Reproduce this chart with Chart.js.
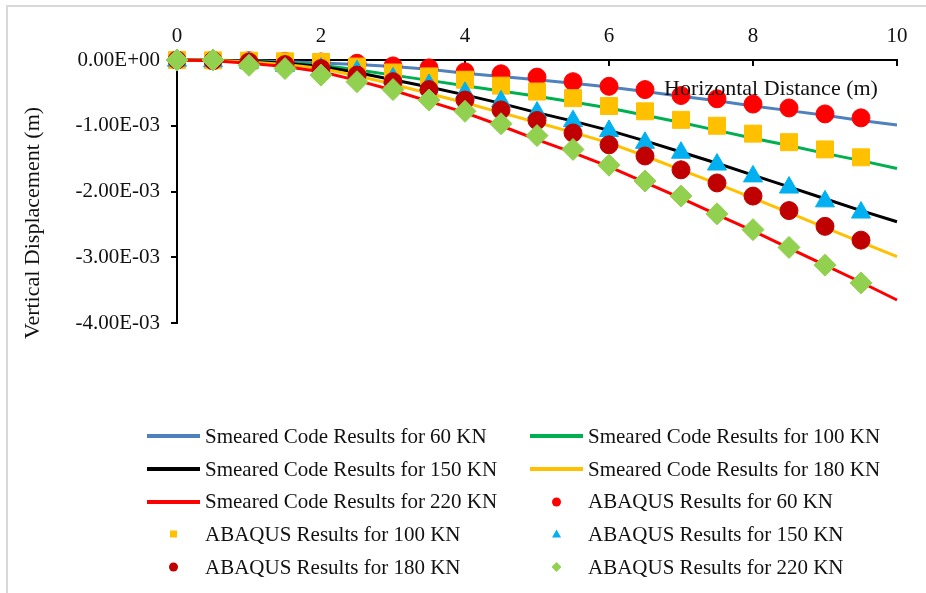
<!DOCTYPE html>
<html>
<head>
<meta charset="utf-8">
<script src="https://cdn.jsdelivr.net/npm/chart.js@4.4.1/dist/chart.umd.min.js"></script>
<style>
  html, body { margin: 0; padding: 0; background: #fff; }
  #wrap { position: relative; width: 926px; height: 593px; overflow: hidden; }
  #frame { position: absolute; left: 6px; top: 5px; width: 930px; height: 600px;
           border-top: 2px solid #d9d9d9; border-left: 2px solid #d9d9d9; box-sizing: border-box; }
  #chart { position: absolute; left: 0; top: 0; }
  #legend { position: absolute; left: 147px; top: 420px; display: grid;
            grid-template-columns: 383px 340px;
            font-family: "Liberation Serif", "Times New Roman", serif; font-size: 21px; color: #111; }
  .item { height: 32.7px; display: flex; align-items: center; white-space: nowrap; }
  .item svg { margin-right: 5px; flex: none; }
</style>
</head>
<body>
<div id="wrap">
  <div id="frame"></div>
  <canvas id="chart" width="926" height="593"></canvas>
  <div id="legend"></div>
</div>
<script>
// jarak mendatar (m)
const xLine = [0, 0.5, 1, 1.5, 2, 2.5, 3, 3.5, 4, 4.5, 5, 5.5, 6, 6.5, 7, 7.5, 8, 8.5, 9, 9.5, 10];
const xAbaqus = [0, 0.5, 1, 1.5, 2, 2.5, 3, 3.5, 4, 4.5, 5, 5.5, 6, 6.5, 7, 7.5, 8, 8.5, 9, 9.5];

// anjakan tegak, dalam unit 1E-03 m
const smeared60 = [0, -0.003, -0.01, -0.025, -0.045, -0.07, -0.10, -0.14, -0.20, -0.25, -0.30, -0.355, -0.41, -0.48, -0.55, -0.62, -0.70, -0.77, -0.84, -0.92, -0.99];
const smeared100 = [0, -0.005, -0.02, -0.04, -0.08, -0.15, -0.23, -0.31, -0.39, -0.47, -0.55, -0.64, -0.73, -0.84, -0.95, -1.07, -1.19, -1.30, -1.42, -1.53, -1.65];
const smeared150 = [0, -0.005, -0.02, -0.05, -0.10, -0.19, -0.30, -0.41, -0.53, -0.66, -0.80, -0.93, -1.07, -1.23, -1.40, -1.57, -1.75, -1.93, -2.11, -2.29, -2.46];
const smeared180 = [0, -0.005, -0.03, -0.07, -0.13, -0.24, -0.37, -0.51, -0.65, -0.80, -0.95, -1.10, -1.26, -1.46, -1.67, -1.88, -2.10, -2.32, -2.55, -2.77, -2.99];
const smeared220 = [0, -0.01, -0.05, -0.10, -0.18, -0.31, -0.46, -0.63, -0.80, -1.00, -1.21, -1.41, -1.62, -1.86, -2.10, -2.35, -2.60, -2.86, -3.12, -3.38, -3.65];

const abaqus60 = [0, 0, -0.01, -0.02, -0.03, -0.05, -0.09, -0.12, -0.18, -0.21, -0.26, -0.33, -0.40, -0.45, -0.54, -0.59, -0.67, -0.73, -0.82, -0.88];
const abaqus100 = [0, -0.005, -0.01, -0.02, -0.03, -0.10, -0.19, -0.25, -0.30, -0.39, -0.48, -0.58, -0.70, -0.78, -0.91, -1.00, -1.12, -1.25, -1.36, -1.48];
const abaqus150 = [-0.01, -0.02, -0.04, -0.09, -0.13, -0.17, -0.28, -0.38, -0.50, -0.63, -0.80, -0.93, -1.08, -1.26, -1.41, -1.59, -1.77, -1.94, -2.15, -2.32];
const abaqus180 = [0, -0.01, -0.03, -0.07, -0.13, -0.23, -0.33, -0.45, -0.61, -0.76, -0.92, -1.11, -1.29, -1.46, -1.67, -1.87, -2.07, -2.29, -2.53, -2.74];
const abaqus220 = [0, 0, -0.08, -0.13, -0.23, -0.33, -0.45, -0.61, -0.78, -0.97, -1.15, -1.36, -1.60, -1.84, -2.07, -2.34, -2.58, -2.85, -3.12, -3.39];

const xTicks = [0, 2, 4, 6, 8, 10];
const yTicks = [0, -0.001, -0.002, -0.003, -0.004];
const xTitle = 'Horizontal Distance (m)';
const yTitle = 'Vertical Displacement (m)';

const FONT = '"Liberation Serif", "Times New Roman", serif';

function toPoints(xs, ys){
  return xs.map((x, i) => ({ x: x, y: ys[i] / 1000 }));
}

// format gaya Excel 0.00E+00
function sci(v){
  if (Math.abs(v) < 1e-12) return '0.00E+00';
  const parts = v.toExponential(2).split('e');
  const exp = parseInt(parts[1], 10);
  const sign = exp < 0 ? '-' : '+';
  return parts[0] + 'E' + sign + String(Math.abs(exp)).padStart(2, '0');
}

const lineSeries = [
  { label: 'Smeared Code Results for 60 KN', data: smeared60, color: '#4F81BD' },
  { label: 'Smeared Code Results for 100 KN', data: smeared100, color: '#00B050' },
  { label: 'Smeared Code Results for 150 KN', data: smeared150, color: '#000000' },
  { label: 'Smeared Code Results for 180 KN', data: smeared180, color: '#FFC000' },
  { label: 'Smeared Code Results for 220 KN', data: smeared220, color: '#FF0000' }
];
const pointSeries = [
  { label: 'ABAQUS Results for 60 KN', data: abaqus60, color: '#FF0000', style: 'circle', r: 9 },
  { label: 'ABAQUS Results for 100 KN', data: abaqus100, color: '#FFC000', style: 'rect', r: 12 },
  { label: 'ABAQUS Results for 150 KN', data: abaqus150, color: '#00B0F0', style: 'triangle', r: 11 },
  { label: 'ABAQUS Results for 180 KN', data: abaqus180, color: '#C00000', style: 'circle', r: 9 },
  { label: 'ABAQUS Results for 220 KN', data: abaqus220, color: '#92D050', style: 'rectRot', r: 11 }
];

const datasets = [];
lineSeries.forEach(s => {
  datasets.push({
    label: s.label,
    data: toPoints(xLine, s.data),
    borderColor: s.color,
    backgroundColor: s.color,
    borderWidth: 3,
    pointRadius: 0,
    fill: false,
    clip: false
  });
});
pointSeries.forEach(s => {
  datasets.push({
    label: s.label,
    data: toPoints(xAbaqus, s.data),
    showLine: false,
    pointStyle: s.style,
    pointRadius: s.r,
    pointBackgroundColor: s.color,
    pointBorderColor: s.color,
    pointBorderWidth: 1,
    clip: false
  });
});
// yang kemudian dilukis di atas
datasets.forEach((d, i) => { d.order = datasets.length - i; });

// tick paksi-x ke dalam + tajuk paksi
const axisExtras = {
  id: 'axisExtras',
  beforeDatasetsDraw(chart){
    const ctx = chart.ctx;
    const xs = chart.scales.x;
    const top = chart.chartArea.top;
    ctx.save();
    ctx.strokeStyle = '#000';
    ctx.lineWidth = 2;
    xTicks.forEach(t => {
      const px = Math.round(xs.getPixelForValue(t));
      ctx.beginPath();
      ctx.moveTo(px, top);
      ctx.lineTo(px, top + 6);
      ctx.stroke();
    });
    ctx.restore();
  },
  afterDraw(chart){
    const ctx = chart.ctx;
    ctx.save();
    ctx.fillStyle = '#111';
    ctx.font = '22px ' + FONT;
    ctx.textAlign = 'center';
    ctx.textBaseline = 'middle';
    ctx.fillText(xTitle, 771, 89);
    ctx.translate(33, 223);
    ctx.rotate(-Math.PI / 2);
    ctx.fillText(yTitle, 0, 0);
    ctx.restore();
  }
};

const ctx = document.getElementById('chart').getContext('2d');
const chart = new Chart(ctx, {
  type: 'line',
  data: { datasets },
  options: {
    responsive: false,
    animation: false,
    layout: { padding: { left: 8, top: 8, right: 29, bottom: 270 } },
    plugins: { legend: { display: false }, tooltip: { enabled: false } },
    scales: {
      x: {
        type: 'linear',
        position: 'top',
        min: 0, max: 10,
        afterBuildTicks(scale){ scale.ticks = xTicks.map(v => ({ value: v })); },
        afterFit(scale){ scale.height = 52; },
        ticks: { color: '#111', font: { family: FONT, size: 21 }, padding: 3 },
        grid: { display: false },
        border: { color: '#000', width: 2 }
      },
      y: {
        type: 'linear',
        min: -0.004, max: 0,
        afterBuildTicks(scale){ scale.ticks = yTicks.map(v => ({ value: v })); },
        afterFit(scale){ scale.width = 169; },
        ticks: { color: '#111', font: { family: FONT, size: 21 }, padding: 11, callback: v => sci(v) },
        grid: { drawOnChartArea: false, tickLength: 6, color: '#000', lineWidth: 2 },
        border: { color: '#000', width: 2 }
      }
    }
  },
  plugins: [axisExtras]
});

// legend HTML, dua lajur
function swatch(item, isLine){
  const svg = [];
  svg.push('<svg width="53" height="20" viewBox="0 0 53 20">');
  if (isLine){
    svg.push(`<line x1="0" y1="10" x2="53" y2="10" stroke="${item.color}" stroke-width="4"/>`);
  } else if (item.style === 'circle'){
    svg.push(`<circle cx="26.5" cy="10" r="4.5" fill="${item.color}"/>`);
  } else if (item.style === 'rect'){
    svg.push(`<rect x="23" y="6.5" width="7" height="7" fill="${item.color}"/>`);
  } else if (item.style === 'triangle'){
    svg.push(`<polygon points="26.5,5.5 31,13.5 22,13.5" fill="${item.color}"/>`);
  } else {
    svg.push(`<polygon points="26.5,5 31.5,10 26.5,15 21.5,10" fill="${item.color}"/>`);
  }
  svg.push('</svg>');
  return svg.join('');
}

const legendEl = document.getElementById('legend');
lineSeries.concat(pointSeries).forEach((item, idx) => {
  const div = document.createElement('div');
  div.className = 'item';
  div.innerHTML = swatch(item, idx < lineSeries.length);
  const span = document.createElement('span');
  span.textContent = item.label;
  div.appendChild(span);
  legendEl.appendChild(div);
});
</script>
</body>
</html>
